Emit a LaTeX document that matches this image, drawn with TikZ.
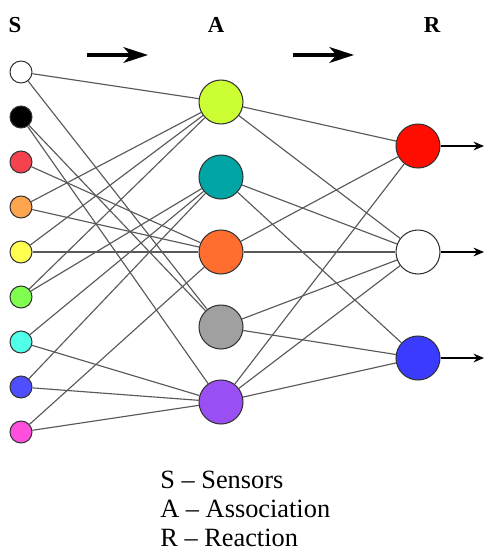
\documentclass[tikz,border=0pt]{standalone}
\usepackage{fontspec}
\setmainfont{Liberation Serif}
\usetikzlibrary{arrows.meta}
\usetikzlibrary{positioning}

\definecolor{sred}{HTML}{F5424F}
\definecolor{sorange}{HTML}{FFA54F}
\definecolor{syellow}{HTML}{FFFF4F}
\definecolor{sgreen}{HTML}{80FF4F}
\definecolor{scyan}{HTML}{4FFFE8}
\definecolor{sblue}{HTML}{4F4FFF}
\definecolor{spink}{HTML}{FF4FDC}
\definecolor{alime}{HTML}{CCFF33}
\definecolor{ateal}{HTML}{00A6A6}
\definecolor{aorange}{HTML}{FF6E2E}
\definecolor{agray}{HTML}{A0A0A0}
\definecolor{apurple}{HTML}{9A4FF5}
\definecolor{rred}{HTML}{FF0D00}
\definecolor{rblue}{HTML}{3B3BFF}

\tikzset{
  sensor/.style={circle, draw=black!80, line width=0.6pt, minimum size=0.44cm, inner sep=0pt},
  unit/.style={circle, draw=black!80, line width=0.6pt, minimum size=0.88cm, inner sep=0pt},
  link/.style={draw=black!65, line width=0.65pt},
  legend/.style={font=\fontsize{15}{18}\selectfont, anchor=base west, inner sep=0pt},
}

\begin{document}
\begin{tikzpicture}[x=0.02cm,y=-0.02cm]
\useasboundingbox (0,0) rectangle (485,551);

% Sensors, association units and reaction units
\foreach \i/\col in {1/white, 2/black, 3/sred, 4/sorange, 5/syellow, 6/sgreen, 7/scyan, 8/sblue, 9/spink} {
    \node[sensor, fill=\col] (s\i) at (21, 27 + 45*\i) {};
}
\foreach \i/\col in {1/alime, 2/ateal, 3/aorange, 4/agray, 5/apurple} {
    \node[unit, fill=\col] (a\i) at (221, 27 + 75*\i) {};
}
\foreach \i/\col in {1/rred, 2/white, 3/rblue} {
    \node[unit, fill=\col] (r\i) at (418, 40 + 106*\i) {};
    \coordinate (o\i) at (484, 40 + 106*\i);
}

% Connections
\foreach \s/\a in {1/1, 1/4, 2/4, 2/5, 3/3, 4/1, 4/3, 5/1, 5/3, 6/1, 6/2, 7/2, 7/5, 8/2, 8/5, 9/3, 9/5} {
    \draw[link] (s\s) -- (a\a);
}
\foreach \a/\r in {1/1, 1/2, 2/2, 2/3, 3/1, 3/2, 4/2, 4/3, 5/1, 5/2, 5/3} {
    \draw[link] (a\a) -- (r\r);
}
\foreach \r in {1,2,3} {
    \draw[line width=0.6pt, -{Stealth[length=6pt, width=5pt, inset=2pt]}] (r\r) -- (o\r);
}

% Headers and direction arrows
\node[font=\fontsize{13}{15}\bfseries\selectfont, anchor=base] (hs) at (15, 32) {S};
\node[font=\fontsize{13}{15}\bfseries\selectfont, anchor=base] (ha) at (216, 32) {A};
\node[font=\fontsize{13}{15}\bfseries\selectfont, anchor=base] (hr) at (432, 32) {R};
\coordinate (p1) at (87, 55);
\coordinate (p2) at (148, 55);
\coordinate (p3) at (293, 55);
\coordinate (p4) at (354, 55);
\draw[line width=1.8pt, -{Stealth[length=14pt, width=9pt, inset=4pt]}] (p1) -- (p2);
\draw[line width=1.8pt, -{Stealth[length=14pt, width=9pt, inset=4pt]}] (p3) -- (p4);

% Legend
\node[legend] (ls) at (160, 488) {S -- Sensors};
\node[legend] (la) at (160, 517) {A -- Association};
\node[legend] (lr) at (160, 546) {R -- Reaction};
\end{tikzpicture}
\end{document}
